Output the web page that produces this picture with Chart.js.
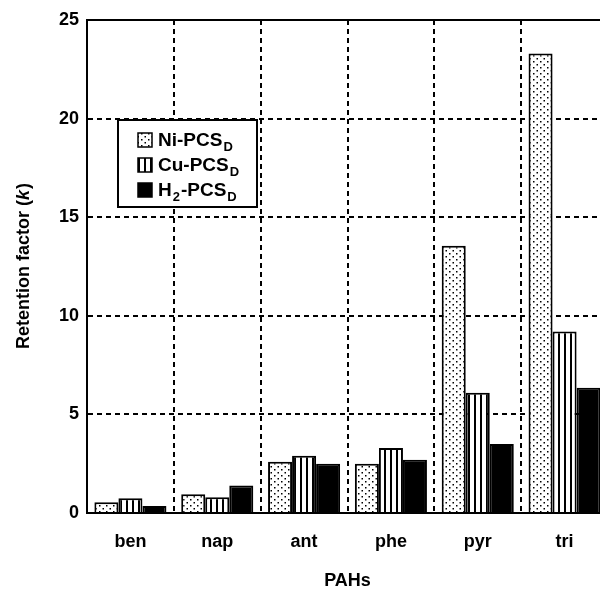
<!DOCTYPE html>
<html>
<head>
<meta charset="utf-8">
<script src="https://cdn.jsdelivr.net/npm/chart.js@4"></script>
<style>
  html, body { margin: 0; padding: 0; background: #fff; overflow: hidden; }
  #wrap { width: 600px; height: 590px; overflow: hidden; }
</style>
</head>
<body>
<div id="wrap"><canvas id="myChart" width="612" height="590"></canvas></div>
<script>
// data
var categories = ['ben', 'nap', 'ant', 'phe', 'pyr', 'tri'];
var niValues = [0.55, 0.95, 2.6, 2.5, 13.55, 23.3];
var cuValues = [0.75, 0.8, 2.9, 3.3, 6.1, 9.2];
var h2Values = [0.35, 1.4, 2.5, 2.7, 3.5, 6.35];
var yTicks = [0, 5, 10, 15, 20, 25];

var FONT = '"Liberation Sans", Arial, sans-serif';

// fill patterns
function dotPattern() {
  var c = document.createElement('canvas');
  c.width = 7; c.height = 6;
  var g = c.getContext('2d');
  g.fillStyle = '#fff'; g.fillRect(0, 0, 7, 6);
  g.fillStyle = '#000';
  g.fillRect(1, 1, 1.5, 1.5);
  g.fillRect(4.5, 4, 1.5, 1.5);
  return g.createPattern(c, 'repeat');
}
function stripePattern() {
  var c = document.createElement('canvas');
  c.width = 6; c.height = 6;
  var g = c.getContext('2d');
  g.fillStyle = '#fff'; g.fillRect(0, 0, 6, 6);
  g.fillStyle = '#000';
  g.fillRect(0, 0, 2, 6);
  return g.createPattern(c, 'repeat');
}

// text with "_x" subscripts
function drawRich(ctx, text, x, y, size) {
  var parts = text.split('_');
  ctx.textBaseline = 'alphabetic';
  ctx.textAlign = 'left';
  for (var i = 0; i < parts.length; i++) {
    var s = parts[i];
    if (i > 0) {
      ctx.font = 'bold ' + Math.round(size * 0.68) + 'px ' + FONT;
      ctx.fillText(s.charAt(0), x, y + 5);
      x += ctx.measureText(s.charAt(0)).width + 1;
      s = s.substring(1);
    }
    ctx.font = 'bold ' + size + 'px ' + FONT;
    ctx.fillText(s, x, y);
    x += ctx.measureText(s).width + 1;
  }
}

var framePlugin = {
  id: 'frame',
  afterDatasetsDraw: function (chart) {
    var ctx = chart.ctx, a = chart.chartArea;
    ctx.save();
    ctx.strokeStyle = '#000';
    ctx.lineWidth = 2;
    ctx.beginPath();
    ctx.moveTo(a.left, a.top);
    ctx.lineTo(a.right, a.top);
    ctx.lineTo(a.right, a.bottom);
    ctx.stroke();

    // y title with italic k
    ctx.translate(24, (a.top + a.bottom) / 2);
    ctx.rotate(-Math.PI / 2);
    ctx.fillStyle = '#000';
    ctx.textBaseline = 'middle';
    var p1 = 'Retention factor (', p2 = 'k', p3 = ')';
    ctx.font = 'bold 18px ' + FONT;
    var w1 = ctx.measureText(p1).width, w3 = ctx.measureText(p3).width;
    ctx.font = 'italic bold 18px ' + FONT;
    var w2 = ctx.measureText(p2).width;
    var x = -(w1 + w2 + w3) / 2;
    ctx.font = 'bold 18px ' + FONT;
    ctx.fillText(p1, x, 0);
    ctx.font = 'italic bold 18px ' + FONT;
    ctx.fillText(p2, x + w1, 0);
    ctx.font = 'bold 18px ' + FONT;
    ctx.fillText(p3, x + w1 + w2 + 1, 0);
    ctx.restore();

    // legend box
    ctx.save();
    ctx.fillStyle = '#fff';
    ctx.fillRect(118, 120, 139, 87);
    ctx.strokeStyle = '#000';
    ctx.lineWidth = 2;
    ctx.strokeRect(118, 120, 139, 87);
    chart.data.datasets.forEach(function (ds, i) {
      var cy = 140 + i * 25;
      ctx.fillStyle = ds.backgroundColor;
      ctx.fillRect(138, cy - 7, 14, 14);
      ctx.lineWidth = 1.5;
      ctx.strokeRect(138, cy - 7, 14, 14);
      ctx.fillStyle = '#000';
      drawRich(ctx, ds.label, 158, cy + 6, 19);
    });
    ctx.restore();
  }
};

var ctx = document.getElementById('myChart');
var chart = new Chart(ctx, {
  type: 'bar',
  data: {
    labels: categories,
    datasets: [
      { label: 'Ni-PCS_D', data: niValues, backgroundColor: dotPattern(), borderColor: '#000', borderWidth: 2 },
      { label: 'Cu-PCS_D', data: cuValues, backgroundColor: stripePattern(), borderColor: '#000', borderWidth: 2 },
      { label: 'H_2-PCS_D', data: h2Values, backgroundColor: '#000', borderColor: '#000', borderWidth: 2 }
    ]
  },
  options: {
    responsive: false,
    animation: false,
    layout: { padding: { top: 20, right: 4, left: 0, bottom: 0 } },
    categoryPercentage: 0.83,
    barPercentage: 1.0,
    plugins: {
      legend: { display: false },
      tooltip: { enabled: false }
    },
    scales: {
      x: {
        grid: { color: '#000', lineWidth: 2, drawTicks: false },
        border: { color: '#000', width: 2, dash: [5, 4] },
        ticks: { color: '#000', padding: 18, font: { family: FONT, size: 18, weight: 'bold' } },
        title: {
          display: true, text: 'PAHs', color: '#000', padding: 0,
          font: { family: FONT, size: 18, weight: 'bold', lineHeight: 1.0 }
        },
        afterFit: function (scale) { scale.height = 77; }
      },
      y: {
        min: 0, max: 25,
        grid: { color: '#000', lineWidth: 2, drawTicks: false },
        border: { color: '#000', width: 2, dash: [5, 4] },
        afterBuildTicks: function (scale) {
          scale.ticks = yTicks.map(function (v) { return { value: v }; });
        },
        ticks: { color: '#000', padding: 8, font: { family: FONT, size: 18, weight: 'bold' } },
        afterFit: function (scale) { scale.width = 87; }
      }
    }
  },
  plugins: [framePlugin]
});
</script>
</body>
</html>
